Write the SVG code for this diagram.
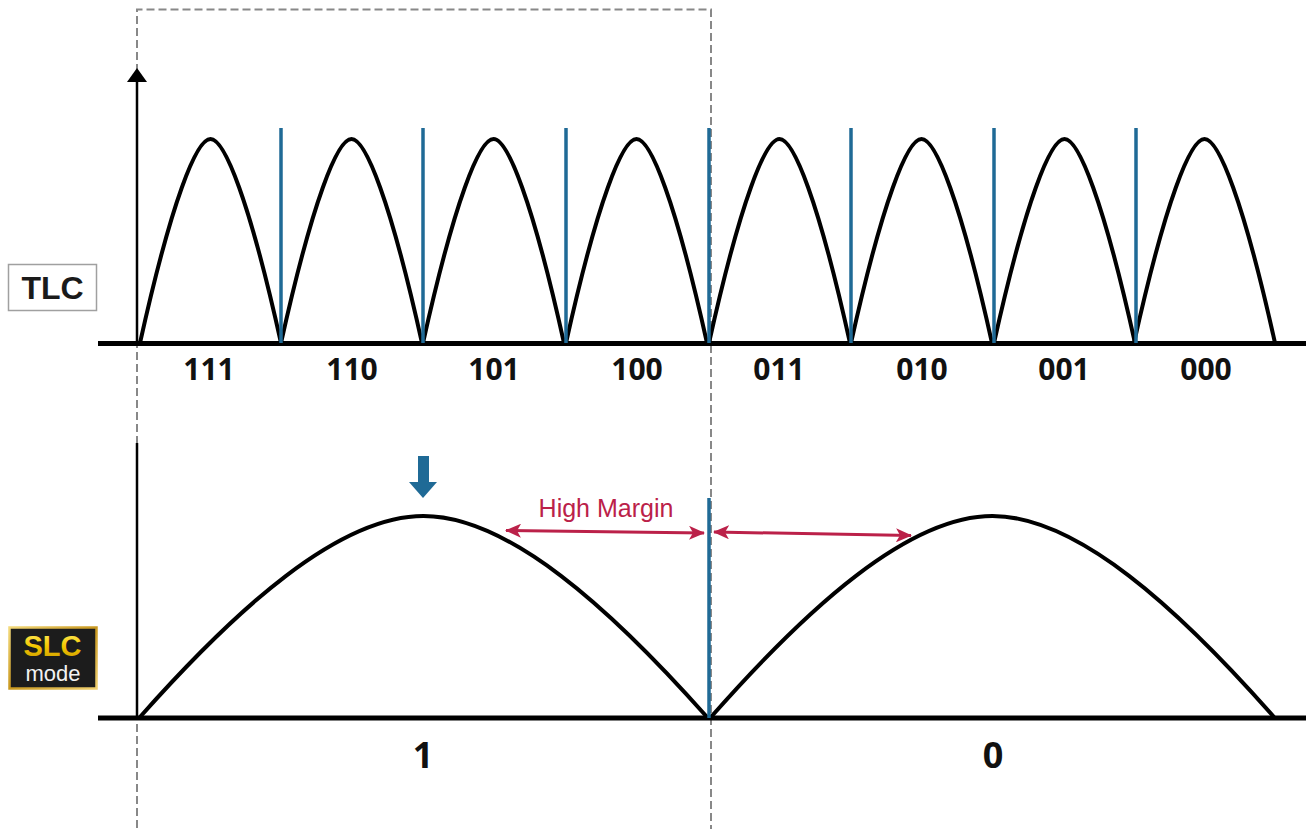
<svg xmlns="http://www.w3.org/2000/svg" width="1306" height="829" viewBox="0 0 1306 829">
  <style>
    .curve { fill: none; stroke: #000; stroke-width: 4; stroke-linejoin: round; }
    .axis { stroke: #000; stroke-width: 5; fill: none; }
    .vaxis { stroke: #000; stroke-width: 2.5; fill: none; }
    .sep { stroke: #1f6a96; stroke-width: 3.5; fill: none; }
    .dash { fill: none; stroke: #888; stroke-width: 2; stroke-dasharray: 8 4; }
    .lbl { font-family: "Open Sans", "Liberation Sans", sans-serif; font-weight: 700; font-size: 30px; fill: #111; text-anchor: middle; }
    .big { font-family: "Open Sans", "Liberation Sans", sans-serif; font-weight: 700; font-size: 36px; fill: #111; text-anchor: middle; }
    .margin { stroke: #bb2149; stroke-width: 3; fill: none; }
  </style>
  <defs>
    <path id="tlcPeak" d="M0,0 C31.7,-142.8 56.4,-204 70.5,-204 S109.3,-142.8 141,0"/>
    <path id="slcPeakA" d="M0,0 C96.4,-108.5 198.5,-201 283.5,-201 S470.6,-108.5 567,0"/>
    <path id="slcPeakB" d="M0,0 C95.7,-108.5 197,-201 281.5,-201 S467.3,-108.5 563,0"/>
    <marker id="redHead" viewBox="0 0 16 14" markerWidth="16" markerHeight="14" refX="15" refY="7" orient="auto-start-reverse" markerUnits="userSpaceOnUse">
      <path d="M0,0 L16,7 L0,14 L4,7 z" fill="#bb2149"/>
    </marker>
    <linearGradient id="gold" x1="0" y1="0" x2="0" y2="1">
      <stop offset="0" stop-color="#fff06a"/>
      <stop offset="0.5" stop-color="#f5c800"/>
      <stop offset="1" stop-color="#c99700"/>
    </linearGradient>
    <linearGradient id="goldBorder" x1="0" y1="0" x2="1" y2="1">
      <stop offset="0" stop-color="#f3d97a"/>
      <stop offset="0.5" stop-color="#c9981f"/>
      <stop offset="1" stop-color="#f0d070"/>
    </linearGradient>
  </defs>

  <!-- dashed selection frame -->
  <g id="frame">
    <path class="dash" d="M137,840 L137,9.5 L711,9.5 L711,840"/>
  </g>

  <!-- axes and connectors -->
  <g id="connectors">
    <line class="axis" x1="98" y1="343.5" x2="1306" y2="343.5"/>
    <line class="axis" x1="98" y1="718" x2="1306" y2="718"/>
    <line class="vaxis" x1="137" y1="80" x2="137" y2="343"/>
    <polygon points="137,68 147,82 127,82" fill="#000"/>
    <line class="vaxis" x1="137" y1="443" x2="137" y2="717"/>
    <line class="margin" x1="506" y1="530.5" x2="704" y2="533" marker-start="url(#redHead)" marker-end="url(#redHead)"/>
    <line class="margin" x1="714" y1="532" x2="911" y2="535.5" marker-start="url(#redHead)" marker-end="url(#redHead)"/>
  </g>

  <!-- TLC distribution -->
  <g id="tlc-curves">
    <use href="#tlcPeak" class="curve" transform="translate(140,343)"/>
    <use href="#tlcPeak" class="curve" transform="translate(281,343)"/>
    <use href="#tlcPeak" class="curve" transform="translate(423,343)"/>
    <use href="#tlcPeak" class="curve" transform="translate(566,343)"/>
    <use href="#tlcPeak" class="curve" transform="translate(709,343)"/>
    <use href="#tlcPeak" class="curve" transform="translate(851,343)"/>
    <use href="#tlcPeak" class="curve" transform="translate(994,343)"/>
    <use href="#tlcPeak" class="curve" transform="translate(1134,343)"/>
  </g>
  <g id="tlc-separators">
    <line class="sep" x1="281" y1="128" x2="281" y2="343"/>
    <line class="sep" x1="423" y1="128" x2="423" y2="343"/>
    <line class="sep" x1="566" y1="128" x2="566" y2="343"/>
    <line class="sep" x1="709" y1="128" x2="709" y2="343"/>
    <line class="sep" x1="851" y1="128" x2="851" y2="343"/>
    <line class="sep" x1="994" y1="128" x2="994" y2="343"/>
    <line class="sep" x1="1136" y1="128" x2="1136" y2="343"/>
  </g>
  <g id="tlc-labels">
    <text class="lbl" x="209" y="380">111</text>
    <text class="lbl" x="352" y="380">110</text>
    <text class="lbl" x="494" y="380">101</text>
    <text class="lbl" x="637" y="380">100</text>
    <text class="lbl" x="779" y="380">011</text>
    <text class="lbl" x="922" y="380">010</text>
    <text class="lbl" x="1064" y="380">001</text>
    <text class="lbl" x="1206" y="380">000</text>
  </g>

  <!-- SLC distribution -->
  <g id="slc-curves">
    <use href="#slcPeakA" class="curve" transform="translate(140,717)"/>
    <use href="#slcPeakB" class="curve" transform="translate(711,717)"/>
  </g>
  <g id="slc-separator">
    <line class="sep" x1="709" y1="498" x2="709" y2="718" stroke-width="4"/>
  </g>
  <g id="read-arrow">
    <polygon points="418,456 429,456 429,482 437,482 423,498 409,482 418,482" fill="#1f6a96"/>
  </g>
  <g id="high-margin">
    <text x="606" y="517" font-family="Liberation Sans, Arial, sans-serif" font-size="25" fill="#bb2149" text-anchor="middle">High Margin</text>
  </g>
  <g id="slc-labels">
    <text class="big" x="423" y="768">1</text>
    <text class="big" x="993" y="768">0</text>
  </g>

  <!-- badges -->
  <g id="tlc-badge">
    <rect x="8.5" y="264.5" width="88" height="46" fill="#fff" stroke="#a0a0a0" stroke-width="1.5"/>
    <text x="52.5" y="299" font-family="Liberation Sans, Arial, sans-serif" font-weight="700" font-size="32" fill="#1a1a1a" text-anchor="middle">TLC</text>
  </g>
  <g id="slc-badge">
    <rect x="9.5" y="627.5" width="87" height="61" fill="#1c1c1c" stroke="url(#goldBorder)" stroke-width="2.5"/>
    <text x="52.5" y="656" font-family="Liberation Sans, Arial, sans-serif" font-weight="700" font-size="29" fill="url(#gold)" text-anchor="middle">SLC</text>
    <text x="53" y="681" font-family="Liberation Sans, Arial, sans-serif" font-size="22" fill="#f2f2f2" text-anchor="middle">mode</text>
  </g>
</svg>
